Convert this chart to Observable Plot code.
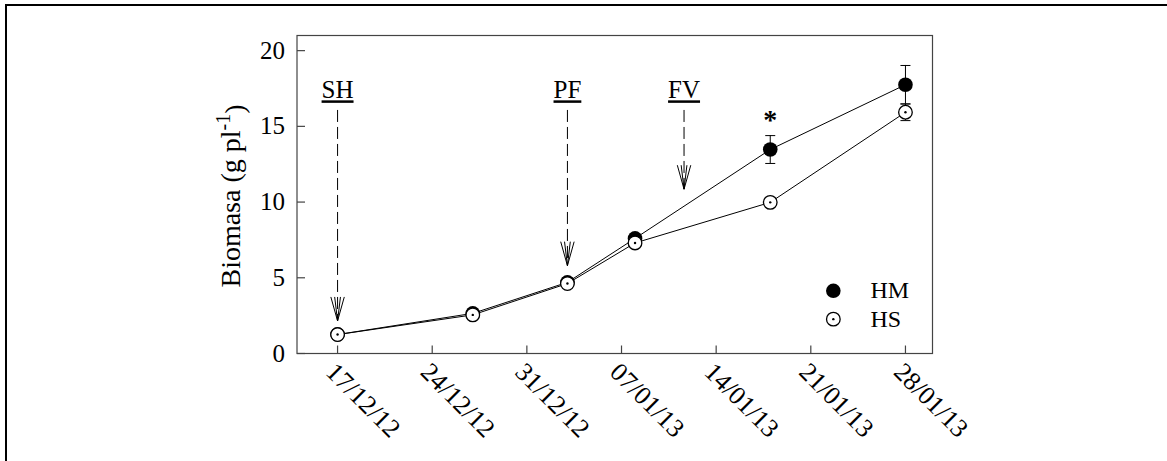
<!DOCTYPE html>
<html>
<head>
<meta charset="utf-8">
<script src="https://cdn.jsdelivr.net/npm/d3@7"></script>
<script src="https://cdn.jsdelivr.net/npm/@observablehq/plot@0.6"></script>
<style>
  body { margin: 0; background: #fff; }
  #wrap { position: relative; width: 1167px; height: 461px; overflow: hidden; }
  #border { position: absolute; left: 5px; top: 4px; width: 1300px; height: 600px;
            border-top: 2px solid #000; border-left: 2px solid #000; }
  #chart { position: absolute; left: 0; top: 0; }
  .phase text { text-decoration: underline; }
</style>
</head>
<body>
<div id="wrap"><div id="border"></div><div id="chart"></div></div>
<script>
// Sampling dates and plant biomass (g per plant) for the two treatments
const dates = ["2012-12-17", "2012-12-27", "2013-01-03", "2013-01-08", "2013-01-18", "2013-01-28"];
const hm    = [1.25, 2.65, 4.70, 7.60, 13.47, 17.75];
const hmErr = [0,    0,    0.30, 0,    0.92,  1.27];
const hs    = [1.25, 2.55, 4.62, 7.30, 9.98,  15.93];
const hsErr = [0,    0,    0,    0,    0,     0.55];

// Axis ticks
const tickDates = ["2012-12-17", "2012-12-24", "2012-12-31", "2013-01-07", "2013-01-14", "2013-01-21", "2013-01-28"];
const yTicks = [0, 5, 10, 15, 20];

// Phenological stages marked with arrows
const phaseLabels = ["SH", "PF", "FV"];
const phaseDates  = ["2012-12-17", "2013-01-03", "2013-01-11T15:00"];
const phaseTips   = [2.15, 5.8, 10.85];

// Significant difference marker
const sigDates  = ["2013-01-18"];
const sigLabels = ["*"];

const seriesNames = ["HM", "HS"];

// ---- layout constants (data units) ----
const xDomain = ["2012-12-14", "2013-01-30"];
const yDomain = [0, 21];
const phaseTop = 16.05, phaseLabelY = 16.85;
const sigY = 15.45;
const legendDotX = "2013-01-22T16:00", legendTextX = "2013-01-25T10:00";
const legendY = [4.14, 2.27];

const parse = s => new Date(s.length > 10 ? s + "Z" : s + "T00:00Z");
const rows = dates.map((d, i) => ({date: parse(d), hm: hm[i], hmErr: hmErr[i], hs: hs[i], hsErr: hsErr[i]}));
const errs = [
  ...rows.filter(r => r.hmErr > 0).map(r => ({date: r.date, lo: r.hm - r.hmErr, hi: r.hm + r.hmErr})),
  ...rows.filter(r => r.hsErr > 0).map(r => ({date: r.date, lo: r.hs - r.hsErr, hi: r.hs + r.hsErr}))
];
const caps = errs.flatMap(e => [{date: e.date, v: e.lo}, {date: e.date, v: e.hi}]);
const phases = phaseLabels.map((l, i) => ({label: l, date: parse(phaseDates[i]), tip: phaseTips[i]}));
const sig = sigDates.map((d, i) => ({date: parse(d), label: sigLabels[i]}));
const legend = seriesNames.map((n, i) => ({name: n, y: legendY[i]}));
const x0 = parse(xDomain[0]);

// Custom glyphs: tick stubs, error-bar caps and the double-V arrow head
const rad = size => Math.sqrt(size / Math.PI);
const upTick    = {draw(c, s) { const l = rad(s); c.moveTo(0, 0); c.lineTo(0, -l); }};
const rightTick = {draw(c, s) { const l = rad(s); c.moveTo(0, 0); c.lineTo(l, 0); }};
const cap       = {draw(c, s) { const r = rad(s); c.moveTo(-r, 0); c.lineTo(r, 0); }};
const head      = {draw(c, s) {
  const h = rad(s), w = h * 0.28, w2 = h * 0.12;
  c.moveTo(-w, -h); c.lineTo(0, 0); c.lineTo(w, -h);
  c.moveTo(-w2, -h); c.lineTo(0, 0); c.lineTo(w2, -h);
}};

const font = "'Liberation Serif', 'Times New Roman', serif";
const axisColor = "#444";

const chart = Plot.plot({
  width: 1167,
  height: 461,
  marginLeft: 296.5,
  marginRight: 235,
  marginTop: 35,
  marginBottom: 108,
  style: {fontFamily: font, fontSize: "25px", color: "#000", background: "transparent", overflow: "visible"},
  x: {type: "utc", domain: xDomain.map(parse)},
  y: {domain: yDomain},
  marks: [
    Plot.frame({stroke: axisColor, strokeWidth: 1.2}),
    // inward tick stubs
    Plot.dot(tickDates.map(parse), {x: d => d, y: 0, symbol: upTick, r: 8, fill: "none", stroke: axisColor, strokeWidth: 1.2}),
    Plot.dot(yTicks, {x: () => x0, y: d => d, symbol: rightTick, r: 8, fill: "none", stroke: axisColor, strokeWidth: 1.2}),
    Plot.axisY({ticks: yTicks, tickSize: 0, tickPadding: 12, label: null, fontSize: 25}),
    Plot.axisX({ticks: tickDates.map(parse), tickFormat: d3.utcFormat("%d/%m/%y"), tickRotate: 45,
                tickSize: 0, tickPadding: 7, label: null, fontSize: 26, textAnchor: "start", lineAnchor: "top"}),

    // phase arrows and labels
    Plot.ruleX(phases, {x: "date", y1: phaseTop, y2: "tip", stroke: "#000", strokeWidth: 1, strokeDasharray: "12,5"}),
    Plot.dot(phases, {x: "date", y: "tip", symbol: head, r: 24, fill: "none", stroke: "#000", strokeWidth: 1}),
    Plot.text(phases, {x: "date", y: phaseLabelY, text: "label", fontSize: 25, lineAnchor: "bottom", className: "phase"}),

    // series lines
    Plot.line(rows, {x: "date", y: "hm", stroke: "#000", strokeWidth: 1}),
    Plot.line(rows, {x: "date", y: "hs", stroke: "#000", strokeWidth: 1}),

    // error bars
    Plot.ruleX(errs, {x: "date", y1: "lo", y2: "hi", stroke: "#000", strokeWidth: 1}),
    Plot.dot(caps, {x: "date", y: "v", symbol: cap, r: 5, fill: "none", stroke: "#000", strokeWidth: 1}),

    // markers
    Plot.dot(rows, {x: "date", y: "hm", r: 7.3, fill: "#000", stroke: "none"}),
    Plot.dot(rows, {x: "date", y: "hs", r: 6.8, fill: "#fff", stroke: "#000", strokeWidth: 1.3}),
    Plot.dot(rows, {x: "date", y: "hs", r: 1.2, fill: "#000", stroke: "none"}),

    // significance
    Plot.text(sig, {x: "date", y: sigY, text: "label", fontSize: 28, fontWeight: "bold", lineAnchor: "middle"}),

    // legend
    Plot.dot(legend.slice(0, 1), {x: () => parse(legendDotX), y: "y", r: 7.3, fill: "#000", stroke: "none"}),
    Plot.dot(legend.slice(1), {x: () => parse(legendDotX), y: "y", r: 6.8, fill: "#fff", stroke: "#000", strokeWidth: 1.3}),
    Plot.dot(legend.slice(1), {x: () => parse(legendDotX), y: "y", r: 1.2, fill: "#000", stroke: "none"}),
    Plot.text(legend, {x: () => parse(legendTextX), y: "y", text: "name", fontSize: 24, textAnchor: "start", lineAnchor: "middle"})
  ]
});

// y-axis title with a superscript exponent
const svg = d3.select(chart);
const title = svg.append("text")
  .attr("transform", "translate(240,196) rotate(-90)")
  .attr("text-anchor", "middle")
  .attr("font-family", font)
  .attr("font-size", 28)
  .attr("fill", "#000");
title.append("tspan").text("Biomasa (g pl");
title.append("tspan").attr("dy", "-0.5em").attr("font-size", 20).text("-1");
title.append("tspan").attr("dy", "0.5em").text(")");

document.getElementById("chart").append(chart);
</script>
</body>
</html>
